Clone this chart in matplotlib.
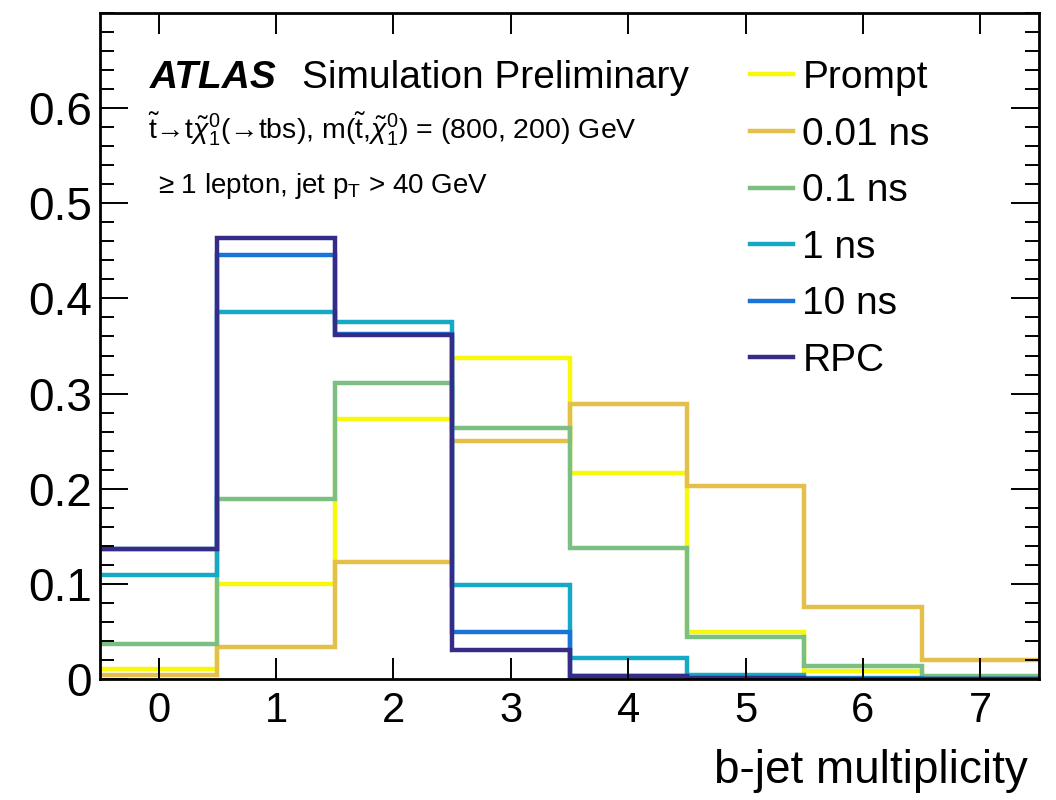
import numpy as np
import matplotlib
matplotlib.use('Agg')
import matplotlib.pyplot as plt
from matplotlib.ticker import MultipleLocator

plt.rcParams['font.family'] = ['Liberation Sans', 'DejaVu Sans']
plt.rcParams['mathtext.fontset'] = 'custom'
plt.rcParams['mathtext.rm'] = 'Liberation Sans'
plt.rcParams['mathtext.it'] = 'Liberation Sans:italic'
plt.rcParams['mathtext.bf'] = 'Liberation Sans:bold'

# b-jet multiplicity bins 0..7, normalised to unit area
nbjets = np.arange(8)
edges = np.arange(-0.5, 8.0, 1.0)

prompt = [0.011, 0.100, 0.273, 0.337, 0.217, 0.049, 0.008, 0.002]
ns_001 = [0.004, 0.034, 0.123, 0.250, 0.289, 0.203, 0.076, 0.020]
ns_01 = [0.037, 0.189, 0.311, 0.264, 0.138, 0.044, 0.014, 0.003]
ns_1 = [0.109, 0.386, 0.375, 0.099, 0.022, 0.004, 0.001, 0.0]
ns_10 = [0.137, 0.446, 0.363, 0.049, 0.003, 0.001, 0.0, 0.0]
rpc = [0.137, 0.464, 0.362, 0.030, 0.003, 0.001, 0.0, 0.0]

samples = [prompt, ns_001, ns_01, ns_1, ns_10, rpc]
labels = ['Prompt', '0.01 ns', '0.1 ns', '1 ns', '10 ns', 'RPC']
colors = ['#F8F80A', '#E4BF4A', '#7BBF82', '#16A9C6', '#1874D8', '#352C88']

yticks = [0, 0.1, 0.2, 0.3, 0.4, 0.5, 0.6]
yticklabels = ['0', '0.1', '0.2', '0.3', '0.4', '0.5', '0.6']

fig = plt.figure(figsize=(10.56, 8), dpi=100)
ax = fig.add_axes([100/1056, 1 - 679/800, 939/1056, 666/800])

for vals, lab, col in zip(samples, labels, colors):
    ax.stairs(vals, edges, baseline=None, color=col, linewidth=3.2, label=lab)

ax.set_xlim(-0.5, 7.5)
ax.set_ylim(0, 0.7)
ax.set_xticks(nbjets)
ax.set_yticks(yticks)
ax.set_yticklabels(yticklabels)
ax.yaxis.set_minor_locator(MultipleLocator(0.02))

ax.tick_params(axis='both', which='both', direction='in', top=True, right=True, width=1.4)
ax.tick_params(axis='x', which='major', length=15, pad=9, labelsize=30)
ax.tick_params(axis='y', which='major', length=20, pad=6, labelsize=33)
ax.tick_params(axis='y', which='minor', length=10)
for sp in ax.spines.values():
    sp.set_linewidth(2.0)

fig.text(1028/1056, 1 - 783/800, 'b-jet multiplicity', ha='right', va='baseline', fontsize=33)

fig.text(150/1056, 1 - 88/800, 'ATLAS', fontsize=28, fontweight='bold', style='italic', va='baseline')
fig.text(302/1056, 1 - 88/800, 'Simulation Preliminary', fontsize=28, va='baseline')
fig.text(148/1056, 1 - 138/800,
         r'$\tilde{\mathrm{t}}$→t$\tilde{\chi}_1^0$(→tbs), m($\tilde{\mathrm{t}}$,$\tilde{\chi}_1^0$) = (800, 200) GeV',
         fontsize=20.5, va='baseline')
fig.text(158/1056, 1 - 193/800, '≥ 1 lepton, jet p$_\\mathrm{T}$ > 40 GeV', fontsize=20, va='baseline')

ax.legend(loc='upper left', bbox_to_anchor=(750/1056, 1 - 60/800), bbox_transform=fig.transFigure,
          frameon=False, fontsize=28, handlelength=1.1, handletextpad=0.25, labelspacing=0.53,
          borderpad=0, borderaxespad=0)

fig.savefig('out.png', dpi=100)
